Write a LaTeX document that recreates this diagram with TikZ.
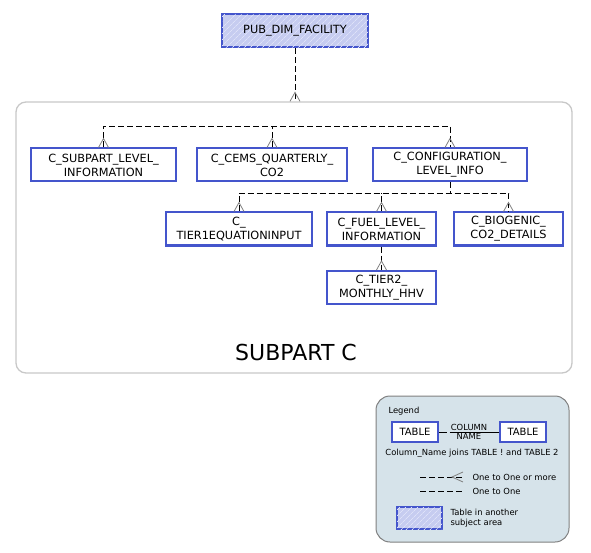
\documentclass[tikz,border=0pt]{standalone}
\usepackage{fontspec}
\setmainfont{DejaVu Sans}
\usetikzlibrary{calc,patterns.meta}
\definecolor{tblblue}{RGB}{68,85,204}
\definecolor{hatchbg}{RGB}{198,204,240}
\definecolor{hatchln}{RGB}{222,226,248}
\definecolor{legbg}{RGB}{214,227,234}
\definecolor{framegray}{RGB}{200,200,200}
\tikzset{
  tbl/.style={draw=tblblue,line width=2pt,fill=white,align=center,inner sep=0pt,minimum height=33,font=\fontsize{11.3}{13.8}\selectfont},
  rel/.style={dash pattern=on 6pt off 3pt,line width=0.9pt,black},
  foot/.style={gray,line width=0.8pt},
  hatched/.style={fill=hatchbg,postaction={pattern={Lines[angle=45,distance=4pt,line width=0.8pt]},pattern color=hatchln}},
  legtxt/.style={font=\fontsize{8.4}{10}\selectfont},
}
\newcommand{\crowfoot}[1]{\draw[foot] ($(#1)+(-5,0)$) -- ($(#1)+(0,-9)$) -- ($(#1)+(5,0)$);}

\begin{document}
\begin{tikzpicture}[x=1pt,y=-1pt]
\useasboundingbox (0,0) rectangle (591,553);
% subject area frame
\node[draw=framegray,line width=1.3pt,rounded corners=10pt,minimum width=556,minimum height=271,inner sep=0pt] (subpart) at (294,237.5) {};
\node[font=\fontsize{22}{26}\selectfont] (sublabel) at (296,352) {SUBPART C};
% tables
\node[tbl,hatched,minimum width=146] (pub) at (295,31) {PUB\_DIM\_FACILITY};
\node[tbl,minimum width=145] (subinfo) at (103.5,165) {C\_SUBPART\_LEVEL\_\\INFORMATION};
\node[tbl,minimum width=150] (cems) at (272,165) {C\_CEMS\_QUARTERLY\_\\CO2};
\node[tbl,minimum width=154] (conf) at (450,165) {C\_CONFIGURATION\_\\LEVEL\_INFO};
\node[tbl,minimum width=146] (tier1) at (239,229) {C\_\\TIER1EQUATIONINPUT};
\node[tbl,minimum width=109] (fuel) at (381.5,229) {C\_FUEL\_LEVEL\_\\INFORMATION};
\node[tbl,minimum width=109] (bio) at (508.5,229) {C\_BIOGENIC\_\\CO2\_DETAILS};
\node[tbl,minimum width=109] (tier2) at (381.5,287.5) {C\_TIER2\_\\MONTHLY\_HHV};
% relations
\coordinate (bus1) at (0,126);
\coordinate (bus2) at (0,193);
\coordinate (pubin) at (pub.south |- subpart.north);
\draw[rel] (pub.south) -- (pubin);
\crowfoot{pubin}
\draw[rel] (subinfo.north) |- (bus1 -| conf.north) -- (conf.north);
\draw[rel] (cems.north) -- (cems.north |- bus1);
\draw[rel] (conf.south) -- (conf.south |- bus2);
\draw[rel] (tier1.north) |- (bus2 -| bio.north) -- (bio.north);
\draw[rel] (fuel.north) -- (fuel.north |- bus2);
\draw[rel] (fuel.south) -- (tier2.north);
\foreach \t in {subinfo,cems,conf,tier1,fuel,bio,tier2}
  {\crowfoot{\t.north}}
% legend
\node[draw=gray,line width=1pt,fill=legbg,rounded corners=14pt,minimum width=193,minimum height=146,inner sep=0pt] (legend) at (472.5,469) {};
\node[legtxt,anchor=west] (legtitle) at (385,411) {Legend};
\node[tbl,minimum width=46,minimum height=20,font=\fontsize{10}{11}\selectfont] (tbla) at (415,432) {TABLE};
\node[tbl,minimum width=46,minimum height=20,font=\fontsize{10}{11}\selectfont] (tblb) at (523,432) {TABLE};
\node[legtxt,anchor=south,inner sep=1pt] (colname) at (469,432) {COLUMN};
\node[legtxt,anchor=north,inner sep=1pt] (colname2) at (469,432) {NAME};
\draw[line width=0.8pt] (tbla.east) -- ++(8,0);
\draw[line width=0.8pt] (colname.south west) -- (tblb.west);
\node[legtxt] (jointxt) at (472,453) {Column\_Name joins TABLE ! and TABLE 2};
\coordinate (manya) at (420,477);
\coordinate (manyb) at (463,477);
\draw[rel] (manya) -- (manyb);
\draw[foot] ($(manyb)+(0,-5)$) -- ($(manyb)+(-11,0)$) -- ($(manyb)+(0,5)$);
\node[legtxt,anchor=west] (manytxt) at (469,477) {One to One or more};
\coordinate (onea) at (420,491);
\coordinate (oneb) at (463,491);
\draw[rel] (onea) -- (oneb);
\node[legtxt,anchor=west] (onetxt) at (469,491) {One to One};
\node[tbl,hatched,minimum width=45,minimum height=22] (othertbl) at (419.5,518) {};
\node[legtxt,anchor=west,align=left] (othertxt) at (447,518) {Table in another\\subject area};
\end{tikzpicture}
\end{document}
